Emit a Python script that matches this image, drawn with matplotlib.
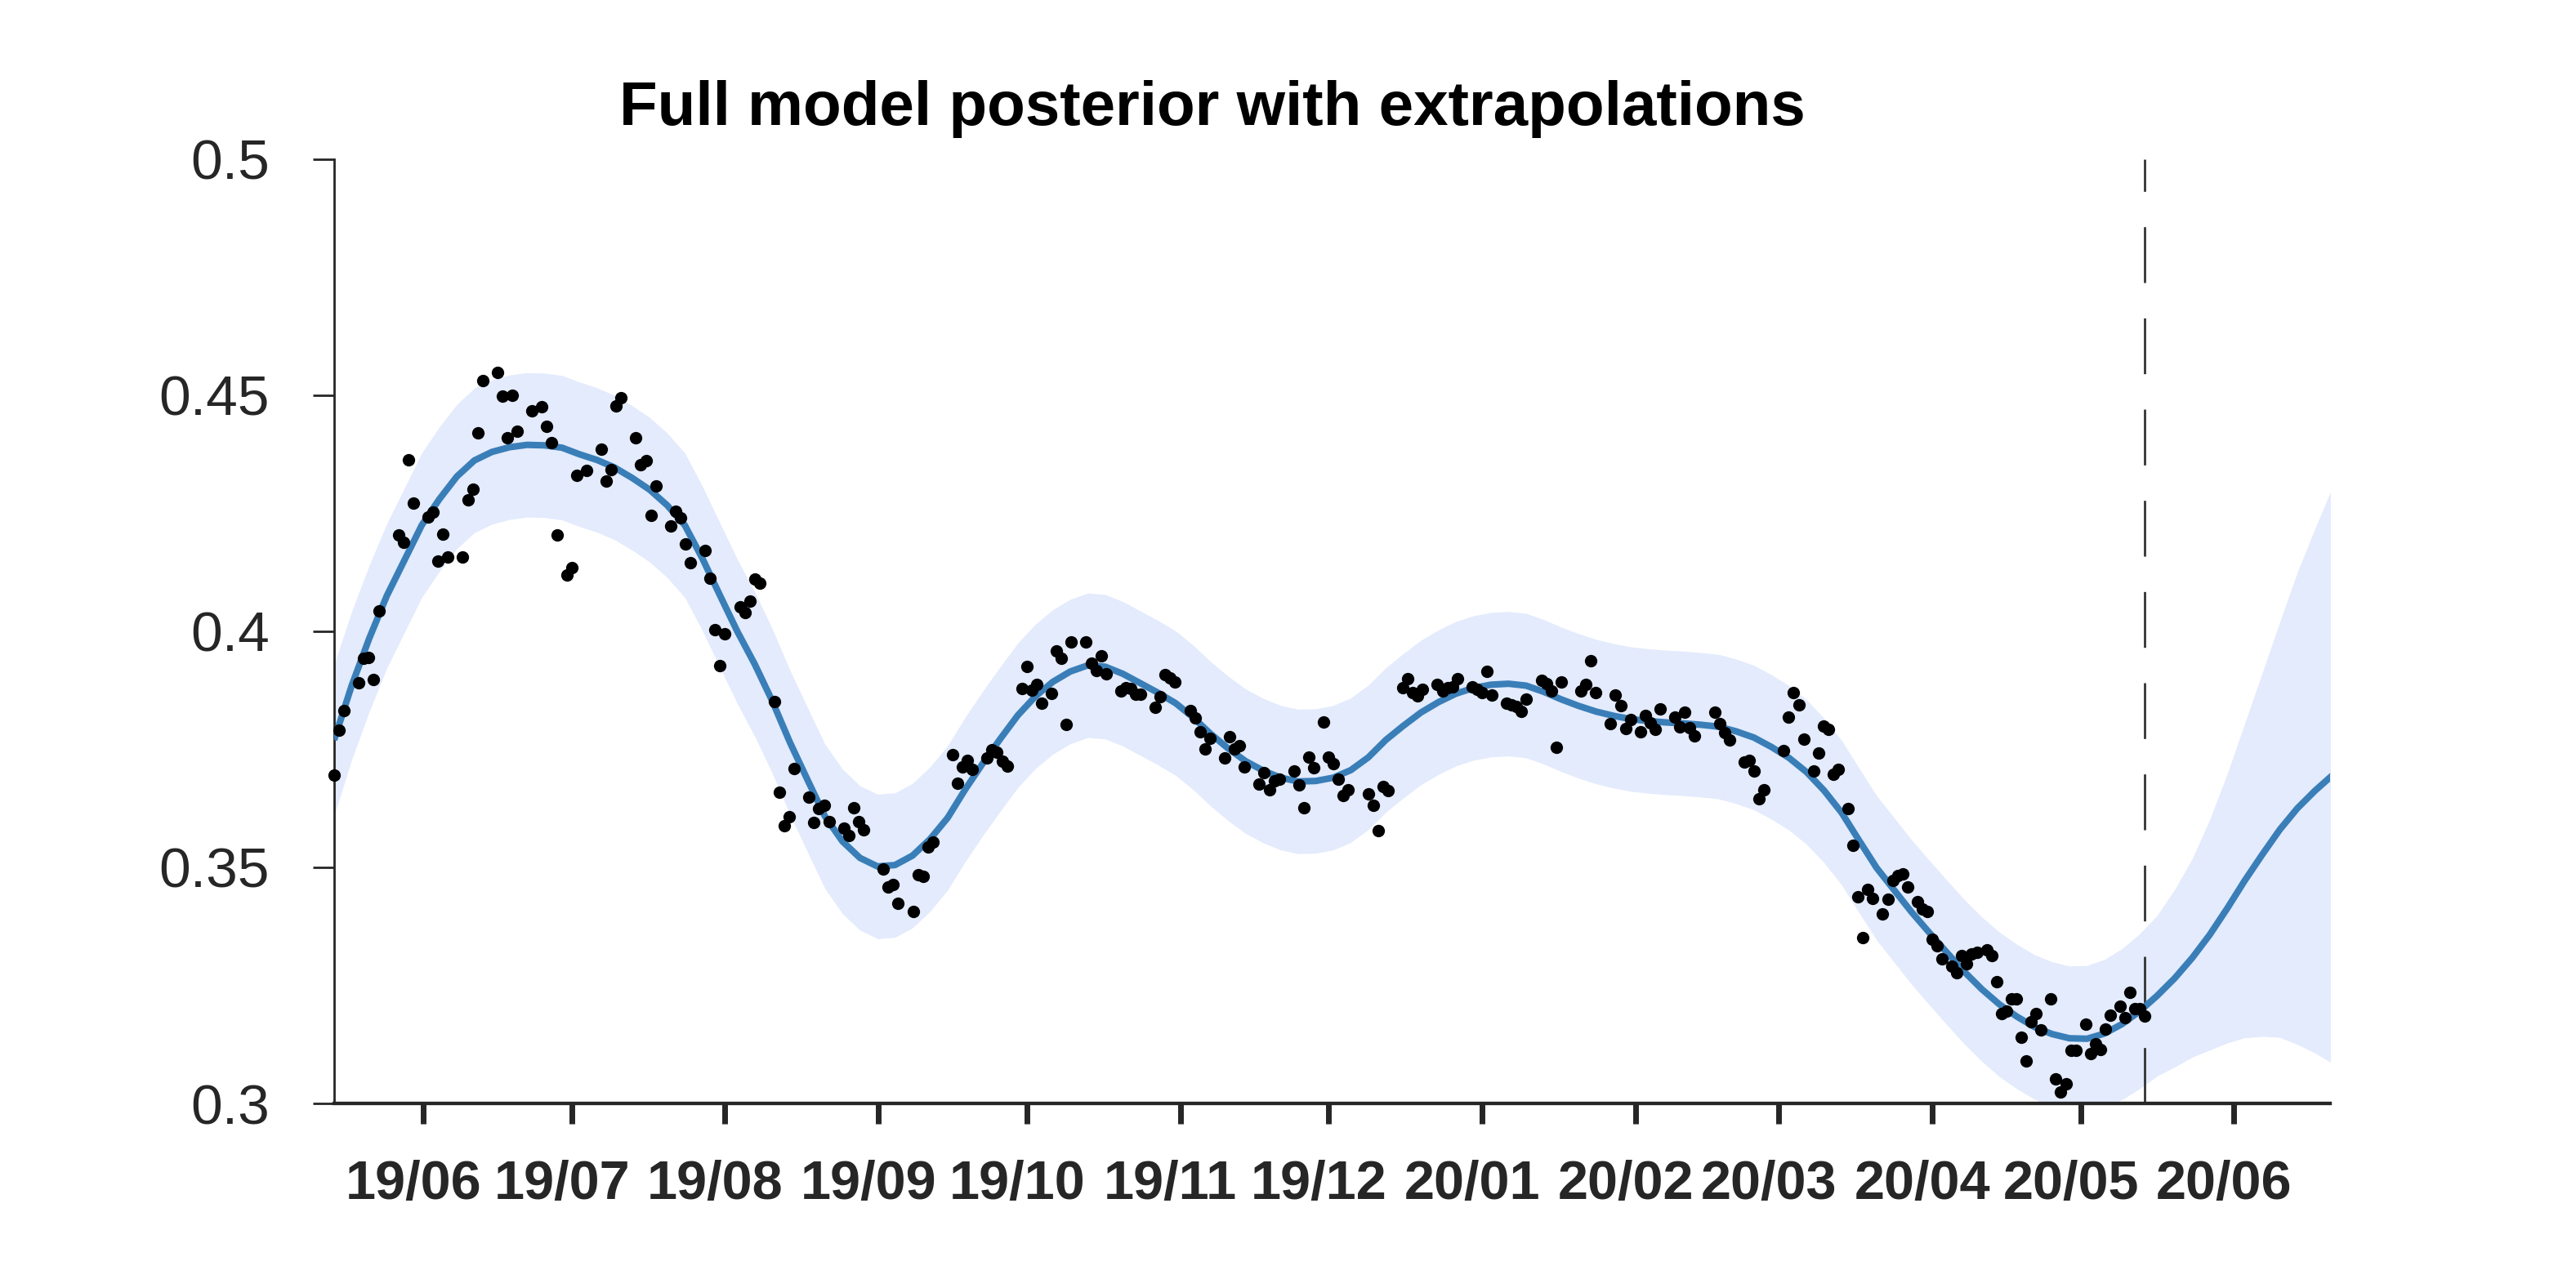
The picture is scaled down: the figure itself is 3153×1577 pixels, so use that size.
import numpy as np
import matplotlib
matplotlib.use("Agg")
import matplotlib.pyplot as plt
import matplotlib.transforms as mtransforms

plt.rcParams["font.family"] = ["Liberation Sans", "DejaVu Sans"]
plt.rcParams["lines.scale_dashes"] = False

# ── data ──────────────────────────────────────────────────────
START = np.datetime64("2019-05-14")   # day 0 = left edge of the axes
END = np.datetime64("2020-06-20T10:00")

# posterior mean and band half-width, read at evenly spaced points
# (days since START)
knot_day = [0, 3.54, 7.09, 10.63, 14.17, 17.71, 21.26, 24.8, 28.34, 31.88,
            35.43, 38.97, 42.51, 46.06, 49.6, 53.14, 56.68, 60.23, 63.77,
            67.31, 70.86, 74.4, 77.94, 81.48, 85.03, 88.57, 92.11, 95.65,
            99.2, 102.74, 106.28, 109.83, 113.37, 116.91, 120.45, 124.0,
            127.54, 131.08, 134.62, 138.17, 141.71, 145.25, 148.8, 152.34,
            155.88, 159.42, 162.97, 166.51, 170.05, 173.59, 177.14, 180.68,
            184.22, 187.77, 191.31, 194.85, 198.39, 201.94, 205.48, 209.02,
            212.57, 216.11, 219.65, 223.19, 226.74, 230.28, 233.82, 237.36,
            240.91, 244.45, 247.99, 251.54, 255.08, 258.62, 262.16, 265.71,
            269.25, 272.79, 276.33, 279.88, 283.42, 286.96, 290.51, 294.05,
            297.59, 301.13, 304.68, 308.22, 311.76, 315.3, 318.85, 322.39,
            325.93, 329.48, 333.02, 336.56, 340.1, 343.65, 347.19, 350.73,
            354.28, 357.82, 361.36, 364.9, 368.45, 371.99, 375.53, 379.07,
            382.62, 386.16, 389.7, 393.25, 396.79, 400.33, 403.87]
post_mean = [0.377, 0.3885, 0.3985, 0.4075, 0.415, 0.4225, 0.428, 0.4328,
             0.4362, 0.438, 0.439, 0.4395, 0.4394, 0.4389, 0.4375, 0.4363,
             0.4347, 0.4325, 0.430, 0.4267, 0.4225, 0.4155, 0.4077, 0.400,
             0.393, 0.3852, 0.3765, 0.3686, 0.3608, 0.3555, 0.352, 0.3502,
             0.3505, 0.3525, 0.356, 0.3605, 0.3665, 0.372, 0.3772, 0.3822,
             0.3862, 0.3893, 0.3915, 0.3928, 0.3925, 0.391, 0.389, 0.387,
             0.3848, 0.3818, 0.3783, 0.3752, 0.3725, 0.3705, 0.369, 0.3682,
             0.3683, 0.369, 0.3706, 0.3733, 0.377, 0.380, 0.3828, 0.385,
             0.3868, 0.388, 0.3887, 0.3889, 0.3885, 0.3872, 0.3856, 0.3842,
             0.383, 0.3821, 0.3814, 0.381, 0.3807, 0.3805, 0.3802, 0.3798,
             0.3788, 0.3775, 0.3755, 0.3732, 0.3702, 0.3663, 0.3616, 0.3557,
             0.3499, 0.3452, 0.3405, 0.3362, 0.332, 0.3279, 0.3242, 0.321,
             0.3184, 0.3162, 0.3147, 0.3138, 0.3137, 0.3148, 0.3168, 0.3195,
             0.3228, 0.3265, 0.3308, 0.3357, 0.3413, 0.3472, 0.3527, 0.358,
             0.3625, 0.3662, 0.3695]
post_hw = ([0.016, 0.0157, 0.0155] + [0.0153] * 97 +
           [0.0155, 0.0157, 0.016, 0.0164, 0.017, 0.0188, 0.021, 0.0244,
            0.0285, 0.0333, 0.0385, 0.044, 0.050, 0.0555, 0.061])

# observations (days since START)
obs_day = [
    0, 1, 2, 5, 6, 7, 8, 9, 13, 14, 15, 16, 19, 20, 21, 22, 23, 26, 27, 28,
    29, 30, 33, 34, 35, 36, 37, 40, 42, 43, 44, 45, 47, 48, 49, 51, 54, 55,
    56, 57, 58, 61, 62, 63, 64, 65, 68, 69, 70, 71, 72, 75, 76, 77, 78,
    79, 82, 83, 84, 85, 86, 89, 90, 91, 92, 93, 96, 97, 98, 99, 100, 103,
    104, 105, 106, 107, 111, 112, 113, 114, 117, 118, 119, 120, 121, 125,
    126, 127, 128, 129, 132, 133, 134, 135, 136, 139, 140, 141, 142, 143,
    145, 146, 147, 148, 149, 152, 153,
    154, 155, 156, 159, 160, 161, 162, 163, 166, 167, 168, 169, 170, 173,
    174, 175, 176, 177, 180, 181, 182, 183, 184, 187, 188, 189, 190, 191,
    194, 195, 196, 197, 198, 200, 201, 202, 203, 204, 205, 209, 210, 211,
    212, 213, 216, 217, 218, 219, 220, 223, 224, 225, 226, 227, 230,
    231, 232, 233, 234, 237, 238, 239, 240, 241, 244, 245, 246, 247, 248,
    252, 253, 254, 255, 258, 259, 260, 261, 262, 264, 265, 266, 267, 268,
    271, 272, 273, 274, 275, 279, 280, 281, 282, 285, 286, 287, 288, 289,
    293, 294, 295, 296, 297, 299, 300, 301, 302, 303, 304,
    306, 307, 308, 309, 310, 311, 313, 314, 315, 316, 317, 318, 320, 321,
    322, 323, 324, 325, 327, 328, 329, 330, 331, 332, 334, 335, 336, 337,
    338, 339, 340, 341, 342, 343, 344, 345, 347, 348, 349, 350, 351, 352,
    354, 355, 356, 357, 358, 359, 361, 362, 363, 364, 365, 366]
obs_val = [
    0.3696, 0.3791, 0.3832, 0.3891, 0.3943, 0.3945, 0.3898, 0.4043, 0.4204,
    0.4188, 0.4363, 0.4272, 0.4242, 0.4253, 0.4149, 0.4206, 0.4157, 0.4157,
    0.4279, 0.4301, 0.4420, 0.4531, 0.4549, 0.4498, 0.4410, 0.4500, 0.4424,
    0.4467, 0.4476, 0.4434, 0.4400, 0.4204, 0.4120, 0.4135, 0.4330, 0.4341,
    0.4386, 0.4318, 0.4343, 0.4478, 0.4495, 0.4410, 0.4353, 0.4361, 0.4246,
    0.4308, 0.4223, 0.4255, 0.4241, 0.4185, 0.4145, 0.4171, 0.4112, 0.4003,
    0.3927,
    0.3995, 0.4052, 0.4040, 0.4064, 0.4111, 0.4102, 0.3852, 0.3659, 0.3589,
    0.3607, 0.3709, 0.3649, 0.3595, 0.3625, 0.3631, 0.3597, 0.3583, 0.3568,
    0.3627, 0.3597, 0.3580, 0.3497, 0.3459, 0.3464, 0.3424, 0.3407, 0.3484,
    0.3481, 0.3543, 0.3554, 0.3739, 0.3679, 0.3713, 0.3727, 0.3707, 0.3732,
    0.3749, 0.3744, 0.3725, 0.3715, 0.3879, 0.3926, 0.3875, 0.3887, 0.3848,
    0.3869, 0.3958, 0.3943, 0.3802, 0.3978, 0.3978, 0.3933,
    0.3917, 0.3948, 0.3910, 0.3873, 0.3881, 0.3879, 0.3866, 0.3867, 0.3839,
    0.3862, 0.3908, 0.3901, 0.3892, 0.3832, 0.3816, 0.3787, 0.3751, 0.3773,
    0.3731, 0.3777, 0.3751, 0.3757, 0.3712, 0.3676, 0.3700, 0.3665, 0.3683,
    0.3687, 0.3704, 0.3674, 0.3627, 0.3734, 0.3711, 0.3808, 0.3734, 0.3719,
    0.3687, 0.3653, 0.3664, 0.3656, 0.3631, 0.3577, 0.3671, 0.3662, 0.3880,
    0.3900, 0.3871, 0.3864, 0.3877, 0.3888, 0.3874, 0.3881, 0.3883, 0.3900,
    0.3882,
    0.3877, 0.3871, 0.3915, 0.3865, 0.3847, 0.3844, 0.3841, 0.3831, 0.3857,
    0.3896, 0.3890, 0.3874, 0.3754, 0.3892, 0.3874, 0.3887, 0.3937, 0.3871,
    0.3805, 0.3865, 0.3842, 0.3794, 0.3813, 0.3787, 0.3822, 0.3806, 0.3792,
    0.3835, 0.3818, 0.3798, 0.3829, 0.3796, 0.3778, 0.3829, 0.3805, 0.3786,
    0.3770, 0.3723, 0.3726, 0.3704, 0.3645, 0.3665, 0.3747, 0.3818, 0.3870,
    0.3845, 0.3772, 0.3704, 0.3742, 0.3800, 0.3793, 0.3697, 0.3707,
    0.3625, 0.3547, 0.3438, 0.3351, 0.3453, 0.3435, 0.3401, 0.3433, 0.3472,
    0.3483, 0.3486, 0.3458, 0.3427, 0.3411, 0.3406, 0.3347, 0.3334, 0.3306,
    0.3290, 0.3276, 0.3314, 0.3296, 0.3316, 0.3320, 0.3326, 0.3313, 0.3258,
    0.3191, 0.3195, 0.3221, 0.3222, 0.3141, 0.3090, 0.3173, 0.3191, 0.3156,
    0.3222, 0.3052, 0.3025, 0.3042, 0.3112, 0.3112, 0.3167, 0.3106, 0.3127,
    0.3115, 0.3157, 0.3187, 0.3206, 0.3182, 0.3235, 0.3201, 0.3201, 0.3185]

SPLIT_DAY = 366   # last observation -> start of extrapolation

tick_dates = ["2019-06-01", "2019-07-01", "2019-08-01", "2019-09-01",
              "2019-10-01", "2019-11-01", "2019-12-01", "2020-01-01",
              "2020-02-01", "2020-03-01", "2020-04-01", "2020-05-01",
              "2020-06-01"]
tick_labels = ["19/06", "19/07", "19/08", "19/09", "19/10", "19/11", "19/12",
               "20/01", "20/02", "20/03", "20/04", "20/05", "20/06"]
y_ticks = [0.3, 0.35, 0.4, 0.45, 0.5]
y_labels = ["0.3", "0.35", "0.4", "0.45", "0.5"]

# ── plot ──────────────────────────────────────────────────────
AX_COL = "#262626"
knot_t = START + (np.array(knot_day) * 86400).astype("timedelta64[s]")
obs_t = START + np.array(obs_day)
mean = np.array(post_mean)
hw = np.array(post_hw)

fig = plt.figure(figsize=(15.765, 7.885), dpi=200)
ax = fig.add_axes([0.12972, 0.14331, 0.77482, 0.73304])

ax.fill_between(knot_t, mean - hw, mean + hw, color="#e3ebfc", lw=0, zorder=1)
split_t = START + np.timedelta64(SPLIT_DAY, "D")
ax.plot([split_t, split_t], [0.3, 0.5], color="#333333", lw=1.0,
        dashes=(24.6, 15.6), zorder=2)
ax.plot(knot_t, mean, color="#3a7eb8", lw=2.9, zorder=3,
        solid_joinstyle="round", solid_capstyle="butt")
ax.plot(obs_t, obs_val, "o", ms=5.5, color="black", mec="none", zorder=4,
        clip_on=False)

ax.set_xlim(START, END)
ax.set_ylim(0.3, 0.5)

ax.set_xticks(np.array(tick_dates, dtype="datetime64[D]"))
ax.set_xticklabels(tick_labels, fontweight="bold")
ax.set_yticks(y_ticks)
ax.set_yticklabels(y_labels)

for s in ("top", "right"):
    ax.spines[s].set_visible(False)
ax.spines["left"].set_linewidth(1.0)
ax.spines["left"].set_color(AX_COL)
ax.spines["bottom"].set_linewidth(1.55)
ax.spines["bottom"].set_color(AX_COL)

ax.tick_params(axis="y", direction="out", length=9.4, width=1.0, pad=19,
               labelsize=25, color=AX_COL, labelcolor=AX_COL)
ax.tick_params(axis="x", direction="out", length=9, width=2.5, pad=16,
               labelsize=24, color=AX_COL, labelcolor=AX_COL)

# month labels sit a little left of their ticks in the original
# (done after tick_params, which resets the label transforms)
shift = mtransforms.ScaledTranslation(-0.06, 0, fig.dpi_scale_trans)
for lbl in ax.get_xticklabels():
    lbl.set_transform(lbl.get_transform() + shift)

fig.text(0.4707, 0.903, "Full model posterior with extrapolations",
         ha="center", va="baseline", fontsize=27.5, fontweight="bold")

fig.savefig("out.png", dpi=200)
